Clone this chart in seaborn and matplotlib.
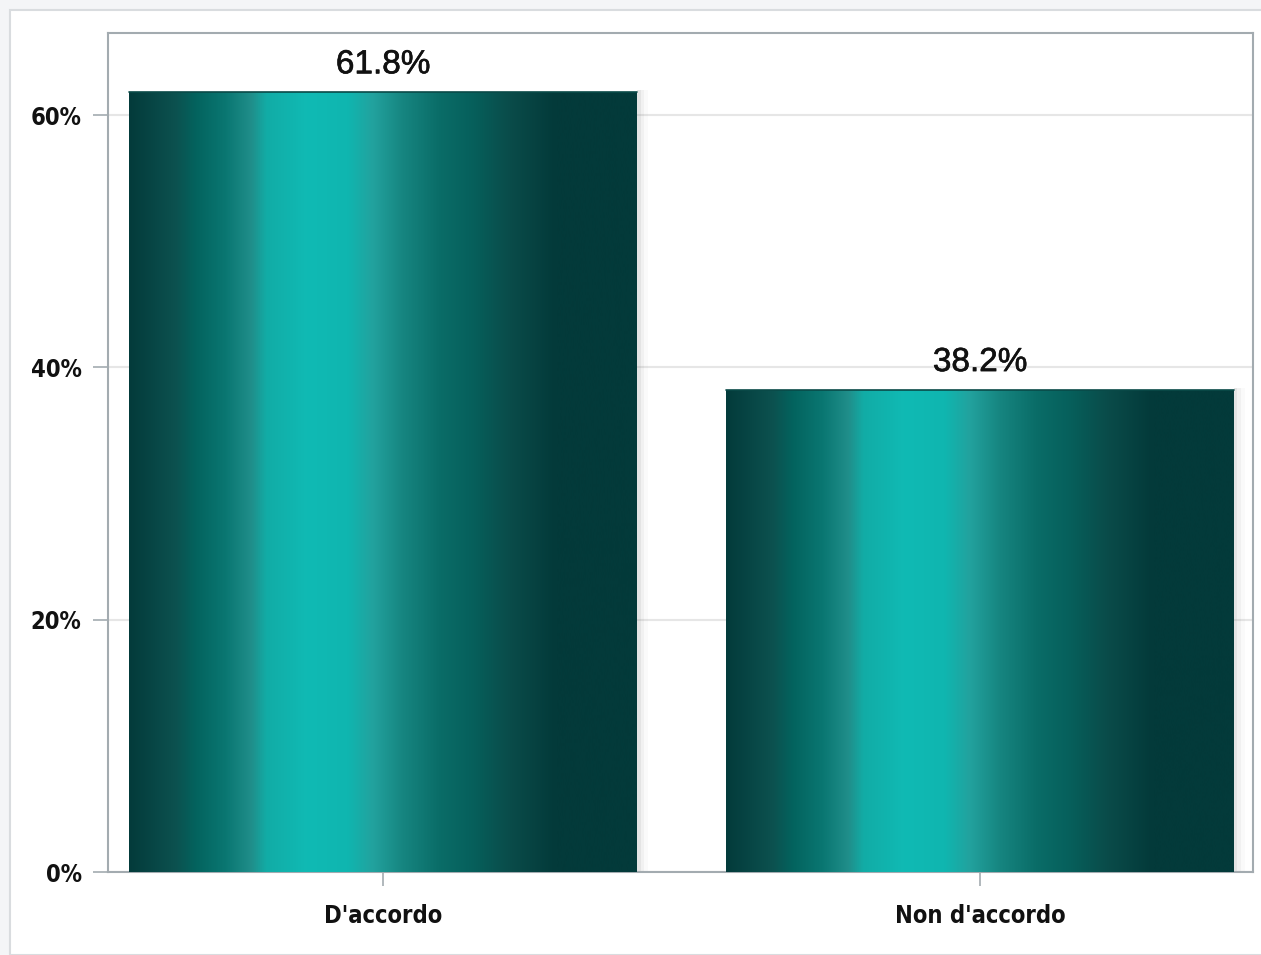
import numpy as np
import matplotlib
matplotlib.use("Agg")
import matplotlib.pyplot as plt
import matplotlib.patheffects as pe
import seaborn as sns
from matplotlib.colors import LinearSegmentedColormap
from matplotlib.patches import Rectangle
from matplotlib.ticker import FuncFormatter

# data
categories = ["D'accordo", "Non d'accordo"]
percentages = [61.8, 38.2]
y_ticks = [0, 20, 40, 60]

# horizontal "metal" gradient used to fill each bar
grad_stops = [
    (0.00, "#033b3b"), (0.09, "#0c514f"), (0.13, "#03635e"),
    (0.19, "#0a7772"), (0.24, "#208e8a"), (0.27, "#12aca6"),
    (0.35, "#10bab4"), (0.43, "#0fb6b0"), (0.48, "#22a29e"),
    (0.54, "#168580"), (0.61, "#0a6d68"), (0.68, "#065f5b"),
    (0.75, "#0a4c4a"), (0.84, "#033a3a"), (1.00, "#033a3a"),
]
bar_cmap = LinearSegmentedColormap.from_list("teal_metal", grad_stops)

sns.set_style("white")
plt.rcParams["font.family"] = ["Liberation Sans", "DejaVu Sans"]

fig = plt.figure(figsize=(12.61, 9.55), dpi=100)
fig.patch.set_facecolor("#f4f5f7")
# white panel behind the chart
fig.patches.append(Rectangle((10 / 1261, 0), 1.0, 1 - 10 / 955, transform=fig.transFigure,
                             facecolor="white", edgecolor="#d9dcdf", linewidth=1.5, zorder=-5))

ax = fig.add_axes([108 / 1261, 1 - 872 / 955, (1253 - 108) / 1261, (872 - 33) / 955])

sns.barplot(x=categories, y=percentages, ax=ax, width=0.85, color="#0b7a75",
            edgecolor="none", zorder=3)

grad = np.linspace(0, 1, 512).reshape(1, -1)
for p in list(ax.patches):
    x0, y0 = p.get_x(), p.get_y()
    w, h = p.get_width(), p.get_height()
    # soft shadow on the right
    for k, a in enumerate([0.10, 0.07, 0.04]):
        ax.add_patch(Rectangle((x0 + w, y0), 0.006 * (k + 1), h + 0.15, facecolor="#808080",
                               alpha=a, edgecolor="none", zorder=2))
    im = ax.imshow(grad, cmap=bar_cmap, aspect="auto", extent=(x0, x0 + w, y0, y0 + h),
                   zorder=4, interpolation="bicubic")
    im.set_clip_path(p)
    ax.plot([x0, x0 + w], [y0 + h, y0 + h], color="#0a4a48", lw=1.2, zorder=5)

ax.set_xlim(-0.461, 1.457)
ax.set_ylim(0, 66.5)
ax.set_yticks(y_ticks)
ax.yaxis.set_major_formatter(FuncFormatter(lambda v, _: f"{v:.0f}%"))
ax.grid(axis="y", color="#e6e6e6", linewidth=1.5, zorder=0)
ax.set_axisbelow(True)

for s in ax.spines.values():
    s.set_color("#a3abb0")
    s.set_linewidth(1.5)

ax.tick_params(axis="y", left=True, length=11, width=1.2, color="#a3abb0", pad=8, labelsize=17)
ax.tick_params(axis="x", bottom=True, length=10, width=1.2, color="#a3abb0", pad=13, labelsize=17)
for lab in ax.get_xticklabels() + ax.get_yticklabels():
    lab.set_fontfamily("DejaVu Sans")
    lab.set_fontstretch("condensed")
    lab.set_fontweight("bold")
    lab.set_color("#111111")

for i, v in enumerate(percentages):
    ax.text(i, v + 0.95, f"{v:.1f}%", ha="center", va="bottom", fontsize=24, color="#111111",
            zorder=6, path_effects=[pe.withStroke(linewidth=0.45, foreground="#111111")])

ax.set_xlabel("")
ax.set_ylabel("")

fig.savefig("out.png", dpi=100, facecolor=fig.get_facecolor())
